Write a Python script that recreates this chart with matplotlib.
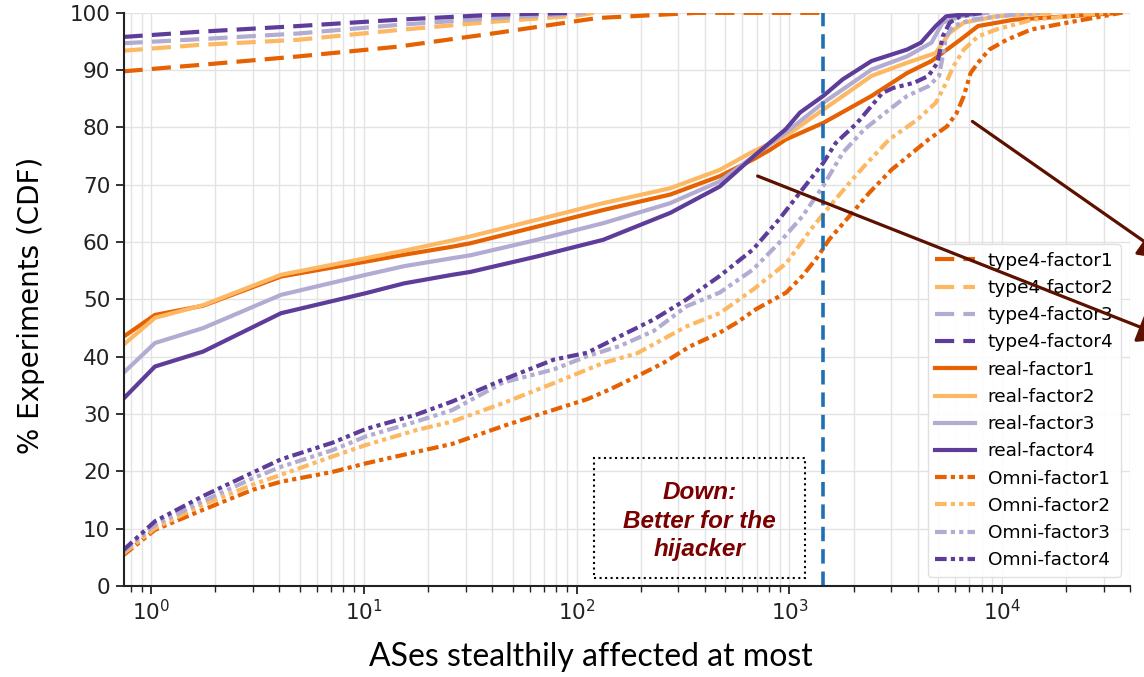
import matplotlib
matplotlib.use("Agg")
import matplotlib.pyplot as plt
from matplotlib.patches import FancyArrowPatch, Rectangle

# colours per factor (PuOr)
factor_colors = ['#e66101', '#fdb863', '#b2abd2', '#5e3c99']

# type4 curves (dashed, top of the chart)
type4_x = [
    [0.74, 1.67, 4.9, 14.4, 42, 125, 365, 1480],
    [0.74, 1.67, 4.9, 14.4, 42, 100, 120],
    [0.74, 1.67, 4.9, 14.4, 42, 100, 110],
    [0.74, 1.67, 4.9, 14.4, 42, 95],
]
type4_y = [
    [89.8, 90.9, 92.4, 94.1, 96.5, 99.1, 100, 100],
    [93.4, 94.4, 95.3, 97.0, 98.5, 99.5, 100],
    [94.7, 95.4, 96.4, 97.9, 99.1, 99.9, 100],
    [95.8, 96.7, 97.7, 98.8, 99.7, 100],
]

# real curves (solid)
real_x = [
    [0.74, 1.04, 1.75, 4.07, 10.2, 15.4, 26, 31.6, 65, 133, 275, 470, 673, 810, 960, 1440, 2430, 3570, 4650, 6350, 7700, 11300, 20300, 36000],
    [0.74, 1.04, 1.75, 4.07, 10.2, 15.4, 26, 31.6, 65, 133, 275, 470, 673, 960, 1440, 2430, 3570, 4870, 5650, 6600, 9400, 16700],
    [0.74, 1.04, 1.75, 4.07, 10.2, 15.4, 26, 31.6, 65, 133, 275, 470, 673, 960, 1440, 2430, 3570, 4650, 5250, 6350, 8500],
    [0.74, 1.04, 1.75, 4.07, 10.2, 15.4, 26, 31.6, 65, 133, 275, 470, 680, 960, 1120, 1440, 1780, 2430, 3570, 4150, 4870, 5450, 7700],
]
real_y = [
    [43.5, 47.3, 48.9, 54.0, 56.6, 57.8, 59.2, 59.8, 62.7, 65.6, 68.3, 71.5, 74.4, 76.1, 77.9, 80.8, 85.5, 89.5, 91.6, 95.3, 97.7, 98.8, 99.4, 100],
    [42.1, 46.8, 49.0, 54.3, 57.2, 58.5, 60.3, 61.0, 63.9, 66.8, 69.4, 72.6, 75.8, 78.5, 83.1, 89.0, 91.3, 93.0, 96.5, 98.3, 99.4, 100],
    [37.2, 42.4, 45.0, 50.8, 54.3, 55.8, 57.2, 57.7, 60.4, 63.3, 66.8, 70.6, 74.9, 79.1, 84.3, 90.1, 92.4, 94.8, 98.3, 99.4, 100],
    [32.7, 38.3, 40.9, 47.6, 51.1, 52.8, 54.3, 54.8, 57.5, 60.4, 65.1, 69.7, 75.0, 79.7, 82.6, 85.5, 88.4, 91.6, 93.6, 94.8, 97.7, 99.4, 100],
]

# Omni curves (dash-dot-dot)
omni_x = [
    [0.74, 1.04, 1.75, 3.0, 4.07, 7.1, 10.2, 17.6, 26, 45, 70, 112, 143, 192, 255, 340, 470, 562, 696, 965, 1150, 1330, 1540, 1910, 2370, 3030, 3300, 4500, 5500, 6100, 6600, 7100, 7700, 8700, 10500, 13700, 20300, 29600, 36000],
    [0.74, 1.04, 1.75, 3.0, 4.07, 7.1, 10.2, 17.6, 26, 45, 78, 133, 192, 328, 470, 673, 965, 1290, 1540, 1910, 2250, 2940, 4000, 4870, 5450, 5900, 6600, 7700, 9400, 13800, 24600, 32000],
    [0.74, 1.04, 1.75, 3.0, 4.07, 7.1, 10.2, 17.6, 26, 45, 78, 112, 160, 230, 328, 470, 673, 895, 1150, 1440, 1780, 2250, 2940, 3570, 4500, 5050, 5250, 5450, 5900, 7100, 11300, 15000],
    [0.74, 1.04, 1.75, 3.0, 4.07, 7.1, 10.2, 17.6, 26, 45, 78, 112, 160, 230, 328, 470, 673, 895, 1150, 1440, 1650, 2080, 2730, 3070, 3850, 4500, 4960, 5250, 5670, 6350, 8000],
]
omni_y = [
    [5.4, 9.8, 13.3, 16.8, 18.2, 19.9, 21.4, 23.4, 24.8, 27.9, 30.2, 32.6, 34.3, 36.6, 38.9, 41.8, 44.2, 45.9, 48.3, 51.2, 54.1, 57.0, 60.5, 64.5, 68.6, 72.7, 73.8, 77.9, 80.2, 82.5, 85.5, 89.5, 91.3, 93.6, 95.3, 97.1, 98.3, 99.4, 100],
    [5.7, 10.1, 14.2, 17.7, 19.4, 22.6, 24.6, 27.2, 28.7, 31.9, 35.4, 38.9, 40.6, 45.3, 47.6, 51.7, 56.3, 62.7, 66.2, 70.3, 73.3, 77.9, 81.4, 84.3, 87.8, 90.7, 93.6, 95.9, 97.1, 98.8, 99.7, 100],
    [6.0, 10.7, 14.8, 18.8, 20.8, 23.7, 26.1, 28.7, 30.7, 35.5, 37.8, 40.1, 41.9, 44.5, 48.8, 51.2, 55.2, 59.9, 64.5, 69.8, 75.6, 79.7, 83.1, 85.5, 87.2, 89.0, 92.4, 95.9, 97.7, 98.8, 99.7, 100],
    [6.3, 11.3, 15.7, 19.8, 22.1, 25.0, 27.4, 29.9, 32.2, 36.0, 39.5, 40.7, 43.6, 46.5, 50.0, 54.1, 58.7, 64.0, 69.2, 73.8, 77.3, 80.8, 86.0, 86.9, 87.8, 89.0, 91.3, 95.9, 98.3, 99.4, 100],
]

threshold = 1440

fig = plt.figure(figsize=(11.44, 6.77), dpi=100)
ax = fig.add_axes([0.108, 0.1344, 0.880, 0.8466])

lw = 3
for i in range(4):
    ax.plot(type4_x[i], type4_y[i], color=factor_colors[i], lw=lw,
            linestyle=(0, (4.6, 2.2)), label='type4-factor%d' % (i + 1))
for i in range(4):
    ax.plot(real_x[i], real_y[i], color=factor_colors[i], lw=lw,
            linestyle='-', label='real-factor%d' % (i + 1))
for i in range(4):
    ax.plot(omni_x[i], omni_y[i], color=factor_colors[i], lw=lw,
            linestyle=(0, (2.8, 1, 1, 1, 1, 1)), label='Omni-factor%d' % (i + 1))

ax.axvline(threshold, color='#1f6fb4', lw=2.6, linestyle=(0, (4, 2.2)))

ax.set_xscale('log')
ax.set_xlim(0.74, 40000)
ax.set_ylim(0, 100)
ax.set_yticks(range(0, 101, 10))

ax.grid(True, which='major', color='#e3e3e3', lw=1)
ax.grid(True, which='minor', axis='x', color='#e3e3e3', lw=1)
ax.set_axisbelow(True)
for s in ['top', 'right']:
    ax.spines[s].set_visible(False)
for s in ['left', 'bottom']:
    ax.spines[s].set_color('#222222')
    ax.spines[s].set_linewidth(1.5)
ax.tick_params(which='major', length=6, width=1.3, labelsize=15.5, colors='#222222')
ax.tick_params(which='minor', length=4, width=1.0, colors='#222222')

ax.set_xlabel('ASes stealthily affected at most', fontsize=23, family='Lato')
ax.xaxis.label.set_va('center')
ax.xaxis.set_label_coords(0.464, -0.124)
ax.set_ylabel('% Experiments (CDF)', fontsize=20)
ax.yaxis.label.set_va('center')
ax.yaxis.set_label_coords(-0.092, 0.49)

leg = ax.legend(loc='lower right', fontsize=13.3, handlelength=2.15,
                handletextpad=0.7, labelspacing=0.5, frameon=True, framealpha=0.9,
                edgecolor='#dddddd', fancybox=True)

# dotted note box
ax.add_patch(Rectangle((0.467, 0.014), 0.21, 0.209, transform=ax.transAxes,
                       fill=False, linestyle=':', lw=1.5, edgecolor='black'))
ax.text(0.572, 0.113, 'Down:\nBetter for the\nhijacker', transform=ax.transAxes,
        ha='center', va='center', fontsize=17.5, fontweight='bold', style='italic',
        color='#7a0000', family='Liberation Sans', linespacing=1.3)

# arrows running off the right edge
arrow_color = '#5c1000'
for start, end in [((0.660, 0.7415), (1.025, 0.498)), ((0.848, 0.823), (1.025, 0.614))]:
    fig.add_artist(FancyArrowPatch(start, end, transform=fig.transFigure,
                                   arrowstyle='-|>,head_length=0.9,head_width=0.45',
                                   mutation_scale=22, color=arrow_color, lw=2.3,
                                   clip_on=False))

fig.savefig('out.png', dpi=100)
